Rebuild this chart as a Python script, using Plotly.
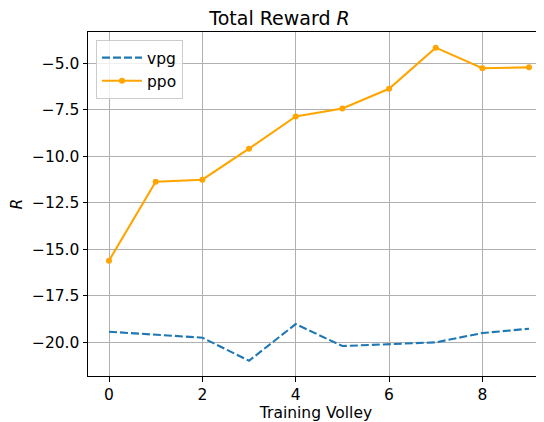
import plotly.graph_objects as go

volleys = list(range(10))
vpg = [-19.43, -19.59, -19.75, -20.99, -19.02, -20.2, -20.09, -20.0, -19.5, -19.27]
ppo = [-15.61, -11.37, -11.26, -9.59, -7.86, -7.43, -6.37, -4.16, -5.27, -5.22]
y_ticks = [-20.0, -17.5, -15.0, -12.5, -10.0, -7.5, -5.0]
x_ticks = [0, 2, 4, 6, 8]

FONT = "DejaVu Sans"
FS = 15.5

# page body has an 8px margin, so the figure starts at (8, 8)
W, H = 536, 414
L, T, B = 80, 24, 46
PW, PH = W - L, H - T - B

fig = go.Figure()
fig.add_trace(go.Scatter(
    x=volleys, y=vpg, name="vpg", mode="lines",
    line=dict(color="#1f77b4", width=2.1, dash="8px,3px"),
))
fig.add_trace(go.Scatter(
    x=volleys, y=ppo, name="ppo", mode="lines+markers",
    line=dict(color="#ffa500", width=2.1),
    marker=dict(color="#ffa500", size=6),
))

fig.update_layout(
    width=W, height=H,
    margin=dict(l=L, r=0, t=T, b=B, autoexpand=False),
    paper_bgcolor="white", plot_bgcolor="white",
    font=dict(family=FONT, size=FS, color="black"),
    title=dict(text="Total Reward <i>R</i>", x=(319 - 88) / PW, xanchor="center",
               y=1 - 10 / H, yanchor="middle", font=dict(size=19, family=FONT)),
    showlegend=True,
    legend=dict(x=8 / PW, y=1 - 8 / PH, xanchor="left", yanchor="top",
                bgcolor="rgba(255,255,255,0.8)", bordercolor="#cccccc", borderwidth=1,
                font=dict(size=FS, family=FONT), tracegroupgap=0, itemwidth=40),
)
fig.update_xaxes(
    range=[-0.45, 9.32], tickvals=x_ticks, ticktext=[str(v) for v in x_ticks],
    showgrid=True, gridcolor="#b0b0b0", gridwidth=1,
    showline=True, linecolor="black", linewidth=1, mirror=True,
    ticks="outside", ticklen=4.5, tickcolor="black", zeroline=False,
    title=dict(text="Training Volley", font=dict(size=FS, family=FONT), standoff=2),
)
fig.update_yaxes(
    range=[-21.81, -3.32], tickvals=y_ticks, tickformat=".1f",
    showgrid=True, gridcolor="#b0b0b0", gridwidth=1,
    showline=True, linecolor="black", linewidth=1,
    ticks="outside", ticklen=4.5, tickcolor="black", zeroline=False,
    title=dict(text="<i>R</i>", font=dict(size=FS, family=FONT), standoff=10),
)

fig.write_html("out.html")
